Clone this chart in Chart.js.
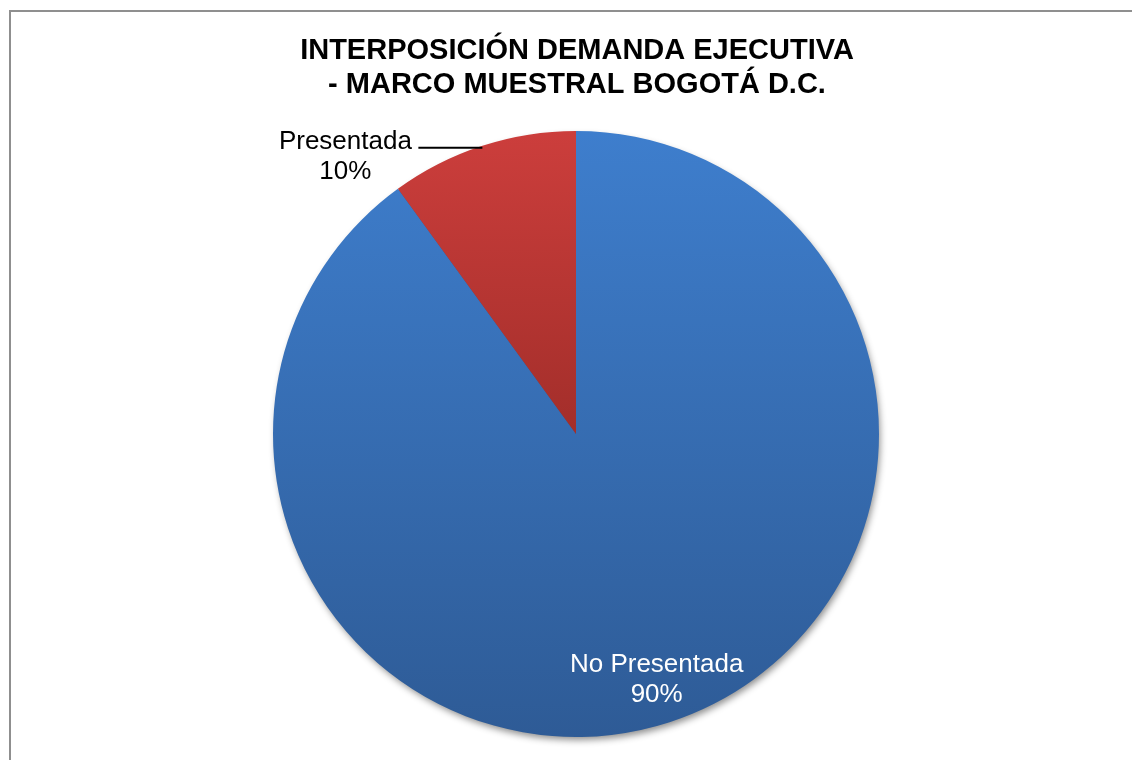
<!DOCTYPE html>
<html>
<head>
<meta charset="utf-8">
<title>Interposición demanda ejecutiva</title>
<script src="https://cdn.jsdelivr.net/npm/chart.js@4.4.1/dist/chart.umd.min.js"></script>
<style>
    html, body {
        margin: 0;
        padding: 0;
        background: #ffffff;
        overflow: hidden;
    }
    .frame {
        position: absolute;
        left: 9px;
        top: 10px;
        width: 1200px;
        height: 800px;
        border-left: 2px solid #8f8f8f;
        border-top: 2px solid #8f8f8f;
    }
    #wrap {
        position: absolute;
        left: 0;
        top: 0;
        width: 1132px;
        height: 760px;
    }
</style>
</head>
<body>
<div class="frame"></div>
<div id="wrap">
    <canvas id="pieChart" width="1132" height="760"></canvas>
</div>
<script>
// Datos del gráfico
const categories = ['No Presentada', 'Presentada'];
const percentValues = [90, 10];
const titleLines = ['INTERPOSICIÓN DEMANDA EJECUTIVA', '- MARCO MUESTRAL BOGOTÁ D.C.'];

const FONT = '"Liberation Sans", Arial, sans-serif';

// Colores con degradado vertical (claro arriba, oscuro abajo)
function sliceGradient(context) {
    const chart = context.chart;
    const area = chart.chartArea;
    const i = context.dataIndex;
    const fallback = i === 0 ? '#3a74c0' : '#c03a37';
    if (!area) return fallback;

    const ctx = chart.ctx;
    if (i === 0) {
        const g = ctx.createLinearGradient(0, area.top, 0, area.bottom);
        g.addColorStop(0, '#3e7ecd');
        g.addColorStop(1, '#2e5b96');
        return g;
    }
    // la porción roja solo ocupa la mitad superior
    const mid = (area.top + area.bottom) / 2;
    const g = ctx.createLinearGradient(0, area.top, 0, mid);
    g.addColorStop(0, '#cc3e3c');
    g.addColorStop(1, '#a32e2a');
    return g;
}

// Sombra suave debajo del pastel
const pieShadow = {
    id: 'pieShadow',
    beforeDatasetsDraw(chart) {
        const arc = chart.getDatasetMeta(0).data[0];
        if (!arc) return;
        const ctx = chart.ctx;
        ctx.save();
        ctx.shadowColor = 'rgba(0, 0, 0, 0.45)';
        ctx.shadowBlur = 7;
        ctx.shadowOffsetX = 2;
        ctx.shadowOffsetY = 4;
        ctx.fillStyle = '#2e5b96';
        ctx.beginPath();
        ctx.arc(arc.x, arc.y, arc.outerRadius - 1, 0, Math.PI * 2);
        ctx.fill();
        ctx.restore();
    }
};

// Título y etiquetas de datos
const pieLabels = {
    id: 'pieLabels',
    afterDraw(chart) {
        const ctx = chart.ctx;
        const meta = chart.getDatasetMeta(0);

        ctx.save();
        ctx.textAlign = 'center';
        ctx.textBaseline = 'alphabetic';

        // título
        ctx.fillStyle = '#000000';
        ctx.font = 'bold 29px ' + FONT;
        ctx.fillText(titleLines[0], 577, 59);
        ctx.fillText(titleLines[1], 577, 93);

        ctx.font = '26px ' + FONT;

        // No Presentada: dentro de la porción
        const a0 = meta.data[0];
        const m0 = (a0.startAngle + a0.endAngle) / 2;
        const r0 = a0.outerRadius * 0.84;
        const x0 = a0.x + Math.cos(m0) * r0 + 2;
        const y0 = a0.y + Math.sin(m0) * r0;
        ctx.fillStyle = '#ffffff';
        ctx.fillText(categories[0], x0, y0 - 4);
        ctx.fillText(percentValues[0] + '%', x0, y0 + 26);

        // Presentada: fuera con línea guía
        const a1 = meta.data[1];
        const m1 = (a1.startAngle + a1.endAngle) / 2;
        const ex = a1.x + Math.cos(m1) * a1.outerRadius;
        const ey = a1.y + Math.sin(m1) * a1.outerRadius + 2;
        ctx.strokeStyle = '#000000';
        ctx.lineWidth = 2;
        ctx.beginPath();
        ctx.moveTo(ex, ey);
        ctx.lineTo(ex - 64, ey);
        ctx.stroke();

        ctx.fillStyle = '#000000';
        ctx.fillText(categories[1], ex - 137, ey + 1);
        ctx.fillText(percentValues[1] + '%', ex - 137, ey + 31);

        ctx.restore();
    }
};

document.addEventListener('DOMContentLoaded', function() {
    const ctx = document.getElementById('pieChart').getContext('2d');

    new Chart(ctx, {
        type: 'pie',
        data: {
            labels: categories,
            datasets: [{
                data: percentValues,
                backgroundColor: sliceGradient,
                borderWidth: 0
            }]
        },
        options: {
            responsive: false,
            animation: false,
            events: [],
            layout: {
                padding: { left: 273, right: 253, top: 131, bottom: 23 }
            },
            plugins: {
                legend: { display: false },
                title: { display: false },
                tooltip: { enabled: false }
            }
        },
        plugins: [pieShadow, pieLabels]
    });
});
</script>
</body>
</html>
